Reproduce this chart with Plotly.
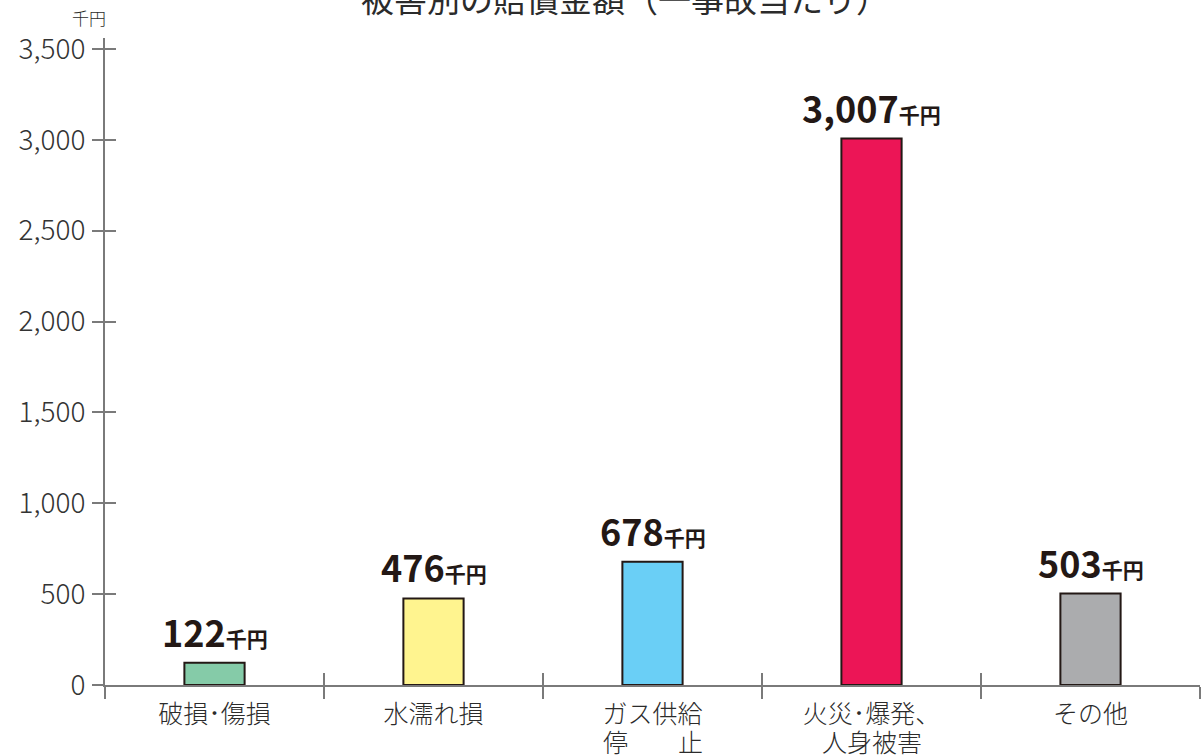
import plotly.graph_objects as go

# 被害別の賠償金額（一事故当たり）, 単位: 千円
categories = ["破損･傷損", "水濡れ損", "ガス供給 停止", "火災･爆発、人身被害", "その他"]
label_line1 = ["破損･傷損", "水濡れ損", "ガス供給", "火災･爆発、", "その他"]
label_line2 = ["", "", "停　　止", "人身被害", ""]
amounts = [122, 476, 678, 3007, 503]
bar_colors = ["#85CBA8", "#FFF48F", "#6ACFF6", "#EC1556", "#ABACAE"]
y_ticks = [0, 500, 1000, 1500, 2000, 2500, 3000, 3500]
y_tick_text = ["0", "500", "1,000", "1,500", "2,000", "2,500", "3,000", "3,500"]

FONT = "Noto Sans CJK JP"
AXIS = "#7a7a7a"
TEXT = "#2b2b2b"
Y_TOP = 3560

fig = go.Figure()

fig.add_trace(go.Bar(
    x=categories,
    y=amounts,
    width=0.275,
    marker=dict(color=bar_colors, line=dict(color="#231815", width=2)),
    hoverinfo="skip",
))

# invisible helpers so the overlaid axes (inner tick halves) get drawn
fig.add_trace(go.Scatter(x=[0], y=[0], xaxis="x2", yaxis="y", mode="markers",
                         marker=dict(opacity=0), hoverinfo="skip", showlegend=False))
fig.add_trace(go.Scatter(x=[categories[0]], y=[0], xaxis="x", yaxis="y2", mode="markers",
                         marker=dict(opacity=0), hoverinfo="skip", showlegend=False))

# value labels above each bar
for cat, val in zip(categories, amounts):
    fig.add_annotation(
        x=cat, y=val, xref="x", yref="y",
        text=f"<b>{val:,}</b><span style='font-size:21px'><b>千円</b></span>",
        showarrow=False, yanchor="bottom", yshift=4,
        font=dict(family=FONT, size=36, color="#231815"),
    )

# second line of the two-line category names, set tighter than <br> spacing
for cat, line in zip(categories, label_line2):
    if line:
        fig.add_annotation(
            x=cat, y=0, xref="x", yref="y",
            text=line, showarrow=False, yanchor="middle", yshift=-56,
            font=dict(family=FONT, size=25, color=TEXT, weight=300),
        )

# unit label above the y axis
fig.add_annotation(
    x=0, y=Y_TOP, xref="paper", yref="y",
    text="千円", showarrow=False, xanchor="right", yanchor="bottom",
    xshift=3, yshift=6,
    font=dict(family=FONT, size=17, color=TEXT, weight=300),
)

fig.update_layout(
    width=1204, height=756,
    margin=dict(l=105, r=4, t=38, b=71, autoexpand=False),
    paper_bgcolor="white", plot_bgcolor="white",
    showlegend=False,
    font=dict(family=FONT, color=TEXT),
    title=dict(
        text="被害別の賠償金額（一事故当たり）",
        x=625 / 1204, xanchor="center",
        y=1.0, yanchor="middle", yref="container",
        font=dict(family=FONT, size=33, color=TEXT),
    ),
    xaxis=dict(
        type="category",
        automargin=False,
        tickson="boundaries",
        tickvals=categories, ticktext=label_line1,
        ticks="outside", ticklen=12, tickwidth=2, tickcolor=AXIS,
        ticklabelstandoff=6,
        showline=True, linecolor=AXIS, linewidth=2,
        showgrid=False, zeroline=False,
        tickfont=dict(family=FONT, size=25, color=TEXT, weight=300),
        range=[-0.5, 4.5],
    ),
    xaxis2=dict(
        overlaying="x", anchor="y", type="linear", range=[-0.5, 4.5],
        tickvals=[-0.5, 0.5, 1.5, 2.5, 3.5, 4.5],
        ticks="inside", ticklen=12, tickwidth=2, tickcolor=AXIS,
        showticklabels=False, showline=False, showgrid=False, zeroline=False,
    ),
    yaxis=dict(
        range=[0, Y_TOP],
        automargin=False,
        tickvals=y_ticks, ticktext=y_tick_text,
        ticks="outside", ticklen=11, tickwidth=2, tickcolor=AXIS,
        ticklabelstandoff=1,
        showline=True, linecolor=AXIS, linewidth=2,
        showgrid=False, zeroline=False,
        tickfont=dict(family=FONT, size=28, color="#333333", weight=300),
    ),
    yaxis2=dict(
        overlaying="y", anchor="x", side="left", range=[0, Y_TOP],
        tickvals=y_ticks,
        ticks="inside", ticklen=11, tickwidth=2, tickcolor=AXIS,
        showticklabels=False, showline=False, showgrid=False, zeroline=False,
    ),
)

fig.write_html("out.html")
